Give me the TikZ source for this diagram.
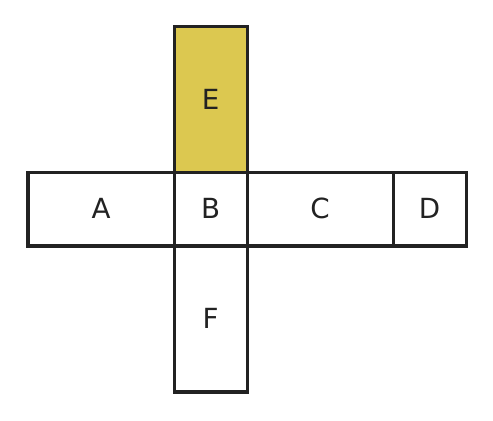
\documentclass[tikz,border=0pt]{standalone}
\usepackage{fontspec}
\setmainfont{DejaVu Sans}
\definecolor{facefill}{HTML}{DCC850}
\definecolor{edgegray}{HTML}{222222}
\begin{document}
\begin{tikzpicture}[line width=1.2pt,
                     face/.style={rectangle,draw=edgegray,text=edgegray,inner sep=0pt,minimum size=1cm,text depth=0.6pt,font=\fontsize{10.8}{12}\selectfont},
                     long face/.style={face,minimum width=2cm},
                     tall face/.style={face,minimum height=2cm}
                    ]
   \useasboundingbox (0,0) rectangle (6.753,5.753);
   \node[long face] (a) at (1.384,2.884) {A};
   \node[face] (b) at (2.884,2.884) {B};
   \node[long face] (c) at (4.384,2.884) {C};
   \node[face] (d) at (5.884,2.884) {D};
   \node[tall face,fill=facefill] (e) at (2.884,4.384) {E};
   \node[tall face] (f) at (2.884,1.384) {F};
 \end{tikzpicture}
\end{document}
